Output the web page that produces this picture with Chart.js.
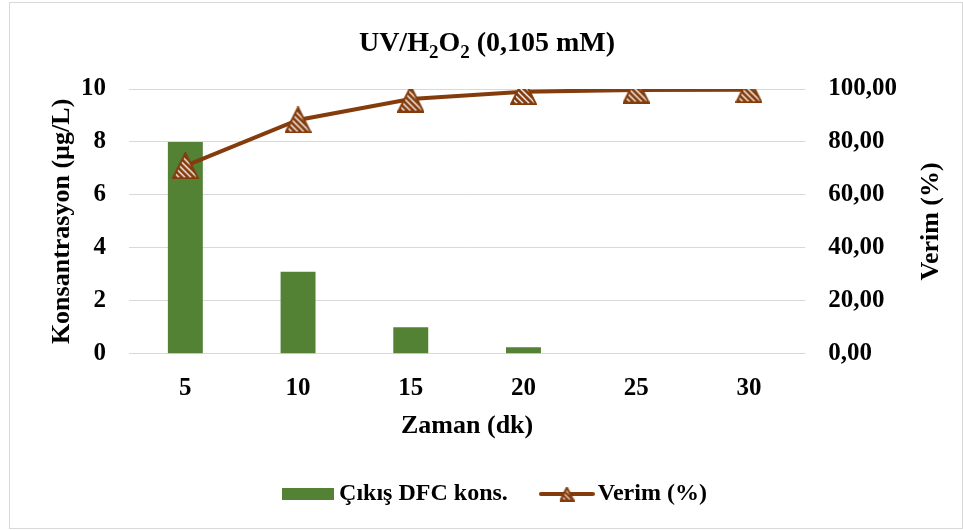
<!DOCTYPE html>
<html>
<head>
<meta charset="utf-8">
<script src="https://cdn.jsdelivr.net/npm/chart.js@4.4.1/dist/chart.umd.min.js"></script>
<style>
  html, body { margin: 0; padding: 0; background: #fff; }
  #wrap { position: relative; width: 963px; height: 530px; }
  #frame { position: absolute; left: 9px; top: 2px; width: 954px; height: 527px; border: 1px solid #d9d9d9; box-sizing: border-box; pointer-events: none; }
</style>
</head>
<body>
<div id="wrap">
  <canvas id="chart" width="963" height="530"></canvas>
  <div id="frame"></div>
</div>
<script>
// données
const categories = ['5', '10', '15', '20', '25', '30'];
const concValues = [8.0, 3.1, 1.0, 0.25, 0, 0];
const verimValues = [71, 88.3, 96.2, 99.0, 99.6, 99.7];
const leftTicks = [0, 2, 4, 6, 8, 10];
const rightTicks = [0, 20, 40, 60, 80, 100];
const seriesNames = ['Çıkış DFC kons.', 'Verim (%)'];
const titleParts = ['UV/H', '2', 'O', '2', ' (0,105 mM)'];
const xTitle = 'Zaman (dk)';
const leftTitle = 'Konsantrasyon (µg/L)';
const rightTitle = 'Verim (%)';

const FONT = "'Liberation Serif', 'Times New Roman', serif";
const BROWN = '#843C0C';
const GREEN = '#548235';

// triangle hachuré pour les points
function makeTriangle(size, step, lw) {
    const c = document.createElement('canvas');
    c.width = size + 2;
    c.height = size + 2;
    const g = c.getContext('2d');
    const path = new Path2D();
    path.moveTo(c.width / 2, 1);
    path.lineTo(c.width - 1, c.height - 1);
    path.lineTo(1, c.height - 1);
    path.closePath();
    g.save();
    g.clip(path);
    g.fillStyle = '#fff';
    g.fillRect(0, 0, c.width, c.height);
    g.strokeStyle = BROWN;
    g.lineWidth = lw;
    for (let k = -c.height; k < c.width * 2; k += step) {
        g.beginPath();
        g.moveTo(k, 0);
        g.lineTo(k + c.height, c.height);
        g.stroke();
    }
    g.restore();
    g.strokeStyle = BROWN;
    g.lineWidth = 2;
    g.stroke(path);
    return c;
}

const pointImg = makeTriangle(25, 6, 3);

// symboles de légende
function makeLegendBar() {
    const c = document.createElement('canvas');
    c.width = 52; c.height = 14;
    const g = c.getContext('2d');
    g.fillStyle = GREEN;
    g.fillRect(0, 1, 52, 12);
    return c;
}
function makeLegendLine() {
    const c = document.createElement('canvas');
    c.width = 56; c.height = 16;
    const g = c.getContext('2d');
    g.strokeStyle = BROWN;
    g.lineWidth = 4;
    g.lineCap = 'round';
    g.beginPath();
    g.moveTo(2, 8);
    g.lineTo(54, 8);
    g.stroke();
    const t = makeTriangle(13, 5, 2.5);
    g.drawImage(t, 28 - t.width / 2, 8 - t.height / 2);
    return c;
}
const legendImgs = [makeLegendBar(), makeLegendLine()];

// titre avec indices + titres des axes verticaux
const extraText = {
    id: 'extraText',
    afterLayout(chart) {
        // légende un peu plus à droite, comme dans l'original
        chart.legend.left += 9;
        chart.legend.right += 9;
    },
    afterDraw(chart) {
        const ctx = chart.ctx;
        const area = chart.chartArea;
        const midY = (area.top + area.bottom) / 2;
        ctx.save();
        ctx.fillStyle = '#000';
        ctx.textBaseline = 'alphabetic';
        const big = 'bold 28px ' + FONT;
        const small = 'bold 19px ' + FONT;
        let total = 0;
        const widths = titleParts.map((p, i) => {
            ctx.font = (i === 1 || i === 3) ? small : big;
            const w = ctx.measureText(p).width;
            total += w;
            return w;
        });
        let x = 487 - total / 2;
        titleParts.forEach((p, i) => {
            const sub = (i === 1 || i === 3);
            ctx.font = sub ? small : big;
            ctx.fillText(p, x, sub ? 58 : 51);
            x += widths[i];
        });
        ctx.font = 'bold 26px ' + FONT;
        ctx.textAlign = 'center';
        ctx.textBaseline = 'middle';
        [[62, leftTitle], [931, rightTitle]].forEach(([tx, text]) => {
            ctx.save();
            ctx.translate(tx, midY);
            ctx.rotate(-Math.PI / 2);
            ctx.fillText(text, 0, 0);
            ctx.restore();
        });
        ctx.restore();
    }
};

const ctx = document.getElementById('chart').getContext('2d');
new Chart(ctx, {
    data: {
        labels: categories,
        datasets: [{
            type: 'line',
            label: seriesNames[1],
            data: verimValues,
            yAxisID: 'y1',
            borderColor: BROWN,
            backgroundColor: BROWN,
            borderWidth: 4,
            tension: 0,
            pointStyle: pointImg,
            order: 0
        }, {
            type: 'bar',
            label: seriesNames[0],
            data: concValues,
            yAxisID: 'y',
            backgroundColor: GREEN,
            borderWidth: 0,
            categoryPercentage: 1,
            barPercentage: 0.31,
            order: 1
        }]
    },
    options: {
        responsive: false,
        animation: false,
        layout: { padding: { top: 89, left: 81, right: 66, bottom: 14 } },
        plugins: {
            tooltip: { enabled: false },
            title: { display: false },
            legend: {
                position: 'bottom',
                reverse: true,
                labels: {
                    usePointStyle: true,
                    pointStyleWidth: 38,
                    padding: 40,
                    color: '#000',
                    font: { family: FONT, size: 24, weight: 'bold' },
                    generateLabels(chart) {
                        return chart.data.datasets.map((ds, i) => ({
                            text: ds.label,
                            pointStyle: legendImgs[i === 1 ? 0 : 1],
                            fillStyle: ds.backgroundColor,
                            strokeStyle: ds.borderColor,
                            lineWidth: 0,
                            hidden: false,
                            datasetIndex: i,
                            fontColor: '#000'
                        }));
                    }
                }
            }
        },
        scales: {
            x: {
                grid: { display: false, drawTicks: true, tickLength: 20 },
                border: { display: false },
                ticks: { color: '#000', padding: 0, font: { family: FONT, size: 25, weight: 'bold' } },
                title: { display: true, text: xTitle, color: '#000', padding: { top: 7, bottom: 0 }, font: { family: FONT, size: 26, weight: 'bold' } }
            },
            y: {
                position: 'left',
                min: 0,
                max: 10,
                afterBuildTicks(scale) { scale.ticks = leftTicks.map(v => ({ value: v })); },
                grid: { color: '#d9d9d9', lineWidth: 1, drawTicks: true, tickLength: 23, tickColor: 'rgba(0,0,0,0)' },
                border: { display: false },
                ticks: { color: '#000', padding: 0, font: { family: FONT, size: 25, weight: 'bold' } }
            },
            y1: {
                position: 'right',
                min: 0,
                max: 100,
                afterBuildTicks(scale) { scale.ticks = rightTicks.map(v => ({ value: v })); },
                grid: { display: false, drawTicks: true, tickLength: 23 },
                border: { display: false },
                ticks: {
                    color: '#000',
                    padding: 0,
                    font: { family: FONT, size: 25, weight: 'bold' },
                    callback: v => v.toFixed(2).replace('.', ',')
                }
            }
        }
    },
    plugins: [extraText]
});
</script>
</body>
</html>
